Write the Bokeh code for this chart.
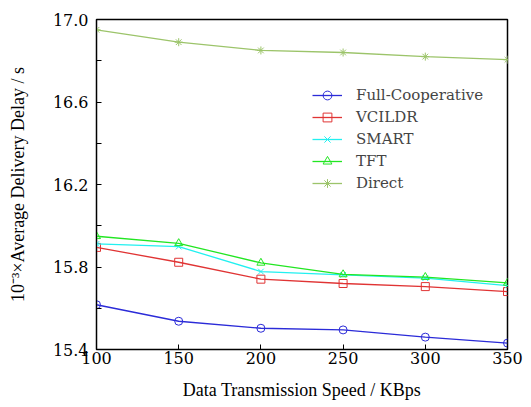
from bokeh.plotting import figure
from bokeh.models import Legend, LegendItem, FixedTicker, Range1d, CustomJSTickFormatter
from bokeh.embed import file_html
from bokeh.resources import INLINE

speeds = [100, 150, 200, 250, 300, 350]
full_coop = [15.617, 15.537, 15.503, 15.495, 15.460, 15.431]
vcildr = [15.895, 15.823, 15.741, 15.720, 15.705, 15.681]
smart = [15.912, 15.899, 15.778, 15.762, 15.746, 15.710]
tft = [15.949, 15.915, 15.820, 15.764, 15.751, 15.723]
direct = [16.950, 16.890, 16.850, 16.840, 16.820, 16.805]

FONT = "Liberation Serif"
FONT2 = "DejaVu Serif"

p = figure(width=531, height=407, output_backend="svg", toolbar_location=None,
           x_range=Range1d(100, 350), y_range=Range1d(15.4, 17.0),
           min_border_left=96, min_border_right=24, min_border_top=19, min_border_bottom=58)
p.xgrid.visible = False
p.ygrid.visible = False
p.outline_line_color = "black"
p.outline_line_width = 1.5
p.background_fill_color = "white"
p.border_fill_color = "white"

series = [
    ("Full-Cooperative", full_coop, "#2b2bd8", "circle"),
    ("VCILDR", vcildr, "#e03434", "square"),
    ("SMART", smart, "#22f0f0", "x"),
    ("TFT", tft, "#22e622", "triangle"),
    ("Direct", direct, "#9cc46a", "asterisk"),
]
items = []
for name, vals, col, mk in series:
    r1 = p.line(speeds, vals, line_color=col, line_width=1.3)
    r2 = p.scatter(speeds, vals, marker=mk, size=8, line_color=col, fill_color=None, line_width=1)
    items.append(LegendItem(label=name, renderers=[r1, r2]))

legend = Legend(items=items, location=(216, 155), padding=0, margin=0, spacing=0,
                label_height=22, glyph_height=22, glyph_width=30, label_standoff=14,
                label_text_font=FONT2, label_text_font_size="15px",
                border_line_color=None, background_fill_alpha=0)
p.add_layout(legend)

for ax in (p.xaxis[0], p.yaxis[0]):
    ax.axis_line_color = "black"
    ax.major_tick_in = 5
    ax.major_tick_out = 0
    ax.minor_tick_in = 0
    ax.minor_tick_out = 0
    ax.major_label_text_font = FONT2
    ax.major_label_text_font_size = "16px"
    ax.major_label_text_color = "black"
    ax.axis_label_text_font = FONT
    ax.axis_label_text_font_size = "18px"
    ax.axis_label_text_font_style = "normal"
    ax.axis_label_text_color = "black"

p.xaxis[0].ticker = FixedTicker(ticks=speeds)
p.xaxis[0].axis_label = "Data Transmission Speed / KBps"
p.xaxis[0].major_label_standoff = 2
p.xaxis[0].axis_label_standoff = 13

p.yaxis[0].ticker = FixedTicker(ticks=[15.4, 15.8, 16.2, 16.6, 17.0],
                                minor_ticks=[15.6, 16.0, 16.4, 16.8])
p.yaxis[0].minor_tick_in = 5
p.yaxis[0].formatter = CustomJSTickFormatter(code="return tick.toFixed(1);")
p.yaxis[0].axis_label = "10\u207b\u00b3\u00d7Average Delivery Delay / s"
p.yaxis[0].major_label_standoff = 8
p.yaxis[0].axis_label_standoff = 22

open("out.html", "w").write(file_html(p, INLINE))
